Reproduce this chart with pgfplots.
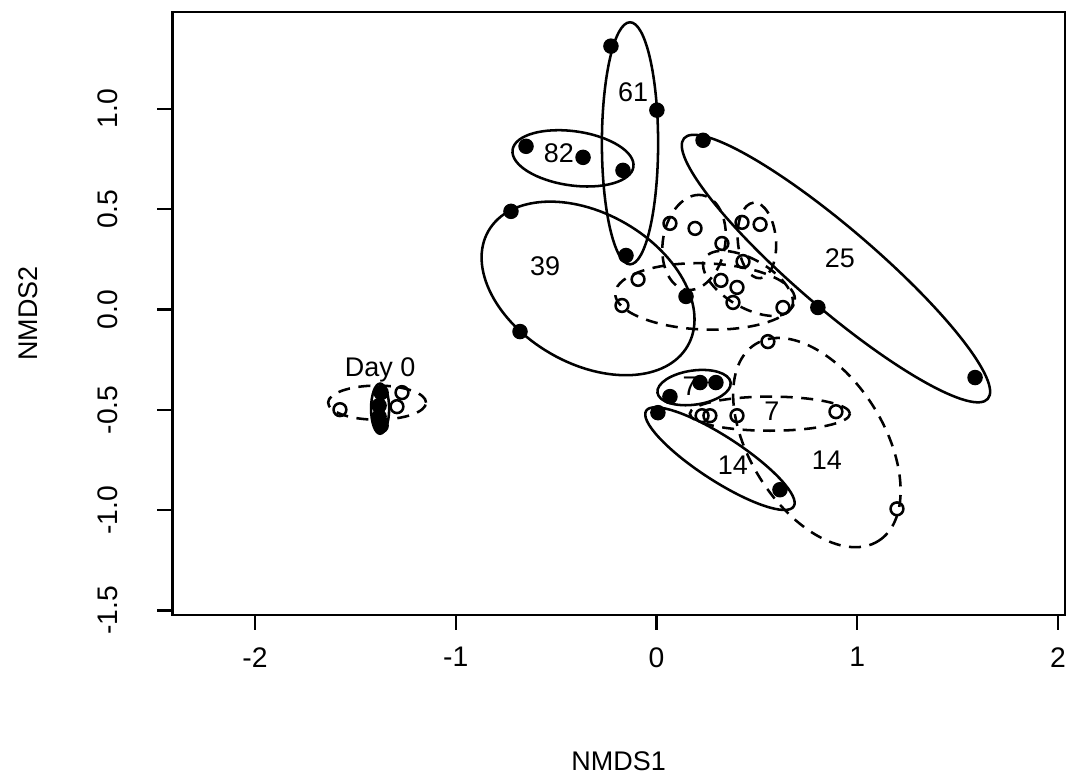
\documentclass[border=0pt]{standalone}
\usepackage{fontspec}
\setmainfont{Liberation Sans}
\usepackage{pgfplots}
\pgfplotsset{compat=1.18}
\newcommand{\ellip}[6]{\draw[#6, rotate around={#5:(axis cs:#1,#2)}] (axis cs:#1,#2) ellipse [x radius=#3, y radius=#4];}
\tikzset{solidE/.style={black, line width=0.95pt}, dashE/.style={black, line width=0.95pt, dash pattern=on 4.5pt off 3.2pt}}
\begin{document}
\begin{tikzpicture}
\begin{axis}[
  x=75.2pt, y=75.2pt,
  xmin=-2.413, xmax=2.035, ymin=-1.522, ymax=1.482,
  disabledatascaling,
  clip=false,
  axis line style={line width=1.1pt},
  tick align=outside, tick pos=left,
  major tick length=5.6pt,
  every tick/.style={black, line width=0.9pt},
  xtick={-2,-1,0,1,2},
  ytick={-1.5,-1,-0.5,0,0.5,1},
  font=\fontsize{10.1}{12}\selectfont,
  ticklabel style={font=\fontsize{10.6}{12}\selectfont},
  /pgf/number format/assume math mode=true,
  xticklabel style={yshift=-3pt},
  yticklabel style={xshift=-11.25pt, rotate=90, anchor=south, /pgf/number format/fixed, /pgf/number format/fixed zerofill, /pgf/number format/precision=1},
  xlabel={NMDS1}, ylabel={NMDS2},
  xlabel style={at={(axis description cs:0.5,0)}, anchor=center, yshift=-54.75pt},
  ylabel style={at={([xshift=-54pt]axis description cs:0,0.5)}, anchor=center},
]
% filled points
\addplot[only marks, mark=*, mark size=2.7pt, black] coordinates {
(-1.372,-0.414) (-1.382,-0.479) (-1.382,-0.534) (-1.372,-0.579)
(-0.650,0.813) (-0.366,0.758) (-0.167,0.693)
(-0.227,1.312) (0.002,0.993) (-0.152,0.269)
(-0.725,0.489) (-0.680,-0.110) (0.147,0.065)
(0.232,0.843) (0.804,0.010) (1.587,-0.339)
(0.067,-0.434) (0.217,-0.364) (0.296,-0.364)
(0.007,-0.514) (0.615,-0.898)
};
% open points
\addplot[only marks, mark=o, mark size=2.4pt, black, mark options={line width=0.95pt}] coordinates {
(-1.577,-0.499) (-1.293,-0.484) (-1.268,-0.414)
(0.067,0.429) (0.192,0.404) (0.426,0.434) (0.516,0.424)
(0.326,0.329) (0.431,0.239) (-0.092,0.150) (0.321,0.145)
(0.401,0.110) (0.381,0.035) (-0.172,0.020) (0.630,0.010)
(0.555,-0.160) (0.227,-0.529) (0.266,-0.529) (0.401,-0.529)
(0.894,-0.509) (1.198,-0.993)
};
% solid ellipses
\ellip{-1.377}{-0.494}{0.125}{0.045}{90}{solidE}
\ellip{-0.416}{0.753}{0.304}{0.135}{-8}{solidE}
\ellip{-0.132}{0.828}{0.603}{0.140}{90}{solidE}
\ellip{-0.341}{0.105}{0.573}{0.374}{-30}{solidE}
\ellip{0.894}{0.204}{0.997}{0.200}{-40.6}{solidE}
\ellip{0.187}{-0.389}{0.184}{0.085}{8}{solidE}
\ellip{0.316}{-0.743}{0.438}{0.110}{-33}{solidE}
% dashed ellipses
\ellip{-1.392}{-0.464}{0.244}{0.085}{0}{dashE}
\ellip{0.565}{-0.519}{0.399}{0.085}{0}{dashE}
\ellip{0.799}{-0.663}{0.578}{0.334}{-58}{dashE}
\ellip{0.242}{0.065}{0.448}{0.165}{-2}{dashE}
\ellip{0.187}{0.334}{0.239}{0.155}{80}{dashE}
\ellip{0.500}{0.344}{0.189}{0.095}{95}{dashE}
\ellip{0.456}{0.130}{0.249}{0.120}{-30}{dashE}
% labels
\node at (axis cs:-0.117,1.082) {61};
\node at (axis cs:-0.486,0.778) {82};
\node at (axis cs:-0.555,0.214) {39};
\node at (axis cs:0.914,0.254) {25};
\node at (axis cs:-1.377,-0.299) {Day 0};
\node at (axis cs:0.167,-0.384) {7};
\node at (axis cs:0.575,-0.509) {7};
\node at (axis cs:0.381,-0.778) {14};
\node at (axis cs:0.849,-0.753) {14};
\end{axis}
\pgfresetboundingbox
\path[use as bounding box] ([xshift=-64.5pt,yshift=-62.25pt]current axis.south west) rectangle ([xshift=0.75pt,yshift=4.5pt]current axis.north east);
\end{tikzpicture}
\end{document}
